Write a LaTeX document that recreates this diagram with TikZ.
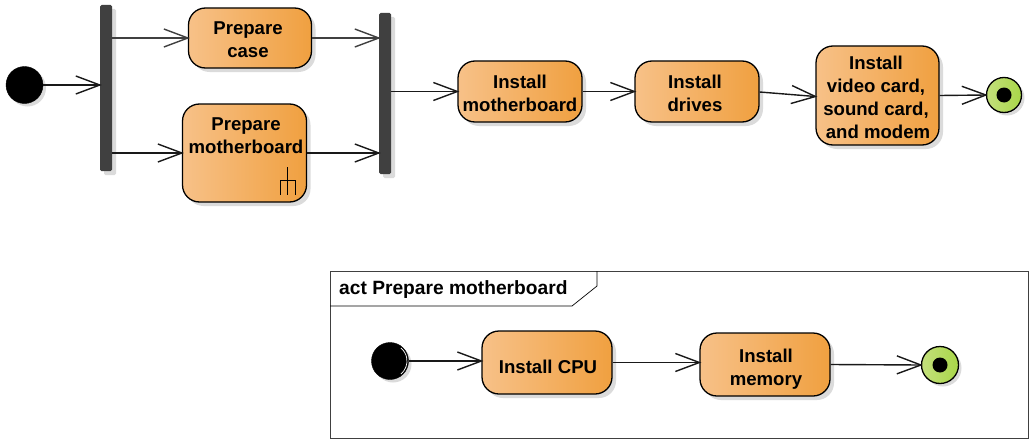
\documentclass[tikz,border=0pt]{standalone}
\usepackage{fontspec}
\setmainfont{Liberation Sans}
\usetikzlibrary{arrows.meta,shadows}
\definecolor{actL}{HTML}{F7C188}
\definecolor{actR}{HTML}{F0A040}
\definecolor{finL}{HTML}{C4E07C}
\definecolor{finR}{HTML}{A8D648}
\definecolor{barc}{HTML}{404040}
\tikzset{
  x=1pt,y=-1pt,
  act/.style={draw=black,line width=1.3pt,rounded corners=17pt,left color=actL,right color=actR,
    drop shadow={shadow xshift=4pt,shadow yshift=-4pt,fill=black!14,opacity=1},inner sep=0pt},
  lab/.style={font=\fontsize{18.6pt}{23pt}\selectfont\bfseries,align=center,inner sep=0pt,text=black},
  barn/.style={fill=barc,draw=none,rounded corners=1.5pt,inner sep=0pt,
    drop shadow={shadow xshift=4pt,shadow yshift=-4pt,fill=black!14,opacity=1}},
  startn/.style={circle,fill=black,draw=black,inner sep=0pt,minimum size=37pt,
    drop shadow={shadow xshift=3pt,shadow yshift=-3pt,fill=black!14,opacity=1}},
  finn/.style={circle,draw=black,line width=1.3pt,left color=finL,right color=finR,inner sep=0pt,minimum size=35pt,
    drop shadow={shadow xshift=3pt,shadow yshift=-3pt,fill=black!14,opacity=1}},
  dotn/.style={circle,fill=black,inner sep=0pt,minimum size=15pt},
  flow/.style={draw=black!90,line width=1.4pt,shorten >=-2pt,-{Straight Barb[length=24pt,width=18pt,line width=1.4pt]}},
  flowb/.style={flow,line width=2.2pt,draw=black!75},
  frame/.style={draw=barc,line width=0.8pt,inner sep=0pt,fill=white},
}
\begin{document}
\begin{tikzpicture}
\useasboundingbox (0,0) rectangle (1035,444);
% bottom frame
\node[frame,minimum width=698pt,minimum height=167pt] (frm) at (679,354.5) {};
\coordinate (tabB) at (597,271);
\coordinate (tabC) at (597,286);
\coordinate (tabD) at (572,306);
\coordinate (tabE) at (330,306);
\draw[line width=0.7pt,draw=black] (tabB) -- (tabC) -- (tabD) -- (tabE);
\node[lab,anchor=west,font=\fontsize{19.2pt}{23pt}\selectfont\bfseries] (tabtxt) at (339,290) {act Prepare motherboard};

% top row
\node[startn] (st) at (24.5,85) {};
\node[barn,minimum width=12pt,minimum height=166pt] (fork) at (106,88) {};
\node[barn,minimum width=12pt,minimum height=161pt] (join) at (385,93.5) {};
\node[act,minimum width=123pt,minimum height=60pt] (case) at (250,38) {};
\node[lab] (caset) at (248,39.5) {Prepare\\case};
\node[act,minimum width=124pt,minimum height=98pt] (pm) at (244.5,153) {};
\node[lab] (pmt) at (246,136) {Prepare\hspace{7pt}\\motherboard};
\node[act,minimum width=124pt,minimum height=61pt] (im) at (520,91.5) {};
\node[lab] (imt) at (520,93) {Install\hspace{3pt}\\motherboard};
\node[act,minimum width=124pt,minimum height=61pt] (dr) at (697,91.5) {};
\node[lab] (drt) at (695,93) {Install\\drives};
\node[act,minimum width=123pt,minimum height=99pt] (vc) at (877.5,95.5) {};
\node[lab] (vct) at (876,97) {Install\\video card,\\sound card,\\\hspace{4pt}and modem};
\node[finn] (fin) at (1004,95) {};
\node[dotn] (findot) at (fin) {};

\draw[line width=0.8pt] (287,167) -- (287,195) (280,195) -- (280,180) -- (295,180) -- (295,195);

\draw[flow] (st) -- (fork.west |- st);
\draw[flowb] (fork.east |- case) -- (case.west);
\draw[flow] (fork.east |- pm) -- (pm.west);
\draw[flowb] (case.east) -- (join.west |- case);
\draw[flow] (pm.east) -- (join.west |- pm);
\draw[flow] (join.east |- im) -- (im.west);
\draw[flow] (im.east) -- (dr.west);
\draw[flow] ([yshift=-0.5pt]dr.east) -- ([yshift=-1pt]vc.west);
\draw[flow] (vc.east) -- (fin.west);

% bottom row
\node[startn,minimum size=37pt] (st2) at (390,361) {};
\draw[white,line width=0.7pt] ([shift={(-50:17pt)}]st2.center) arc[start angle=-50,end angle=50,radius=17pt];
\node[act,minimum width=130pt,minimum height=63pt] (cpu) at (547,362.5) {};
\node[lab] (cput) at (548,367) {Install CPU};
\node[act,minimum width=130pt,minimum height=63pt] (mem) at (765,364.5) {};
\node[lab] (memt) at (766,369) {Install\hspace{6pt}\\memory};
\node[finn,minimum size=37pt] (fin2) at (940,365) {};
\node[dotn] (fin2dot) at (fin2) {};
\draw[flow] (st2) -- (cpu.west |- st2);
\draw[flow] (cpu.east) -- (mem.west |- cpu);
\draw[flow] (mem.east) -- (fin2.west);
\end{tikzpicture}
\end{document}
